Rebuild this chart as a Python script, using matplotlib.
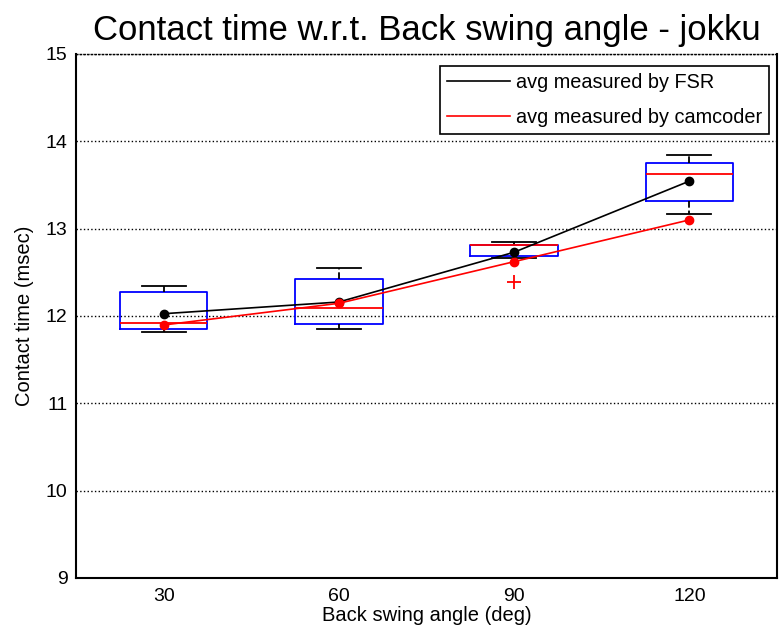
import matplotlib
matplotlib.use("Agg")
import matplotlib.pyplot as plt

plt.rcParams['font.family'] = ['Liberation Sans', 'DejaVu Sans']

angles = ['30', '60', '90', '120']

# box statistics (FSR measurements)
q1 = [11.847, 11.912, 12.688, 13.315]
med = [11.923, 12.088, 12.814, 13.631]
q3 = [12.275, 12.420, 12.814, 13.751]
whislo = [11.816, 11.847, 12.665, 13.169]
whishi = [12.347, 12.554, 12.848, 13.846]
fliers = [[], [], [12.393], []]

avg_fsr = [12.026, 12.160, 12.730, 13.544]
avg_cam = [11.897, 12.145, 12.622, 13.100]


def main():
    fig = plt.figure(figsize=(7.79, 6.41), dpi=100)
    ax = fig.add_axes([0.0976, 0.0983, 0.8998, 0.8175])

    stats = []
    for i in range(len(angles)):
        stats.append({'med': med[i], 'q1': q1[i], 'q3': q3[i],
                      'whislo': whislo[i], 'whishi': whishi[i],
                      'fliers': fliers[i]})
    pos = list(range(1, len(angles) + 1))

    ax.bxp(stats, positions=pos, widths=0.5, showfliers=True,
           boxprops=dict(color='blue', lw=1.3),
           medianprops=dict(color='red', lw=1.3),
           whiskerprops=dict(color='black', lw=1.3, ls='--'),
           capprops=dict(color='black', lw=1.3),
           capwidths=0.25,
           flierprops=dict(marker='+', markeredgecolor='red', markersize=10,
                           markeredgewidth=1.3, linestyle='none'))

    ax.plot(pos, avg_fsr, color='black', lw=1.2, label='avg measured by FSR',
            marker='o', ms=6, zorder=5)
    ax.plot(pos, avg_cam, color='red', lw=1.2, label='avg measured by camcoder',
            marker='o', ms=6, zorder=5)

    ax.set_xlim(0.5, 4.5)
    ax.set_ylim(9, 15)
    ax.set_xticks(pos)
    ax.set_xticklabels(angles)
    ax.set_yticks(range(9, 16))
    ax.tick_params(labelsize=14, length=0)
    ax.tick_params(axis='y', pad=6)
    ax.tick_params(axis='x', pad=7)
    ax.yaxis.grid(True, ls=':', color='black', lw=1)
    ax.set_axisbelow(True)
    for s in ['left', 'bottom', 'right']:
        ax.spines[s].set_linewidth(1.5)
    ax.spines['top'].set_linestyle(':')
    ax.spines['top'].set_linewidth(1)

    ax.set_xlabel('Back swing angle (deg)', fontsize=14.5, labelpad=1)
    ax.set_ylabel('Contact time (msec)', fontsize=14.5, labelpad=8.5)
    ax.set_title('Contact time w.r.t. Back swing angle - jokku', fontsize=25, pad=10)

    leg = ax.legend(loc='upper right', fontsize=14.3, handlelength=3.17,
                    handletextpad=0.3, fancybox=False, framealpha=1,
                    borderpad=0.35, labelspacing=0.82, borderaxespad=0,
                    bbox_to_anchor=(0.989, 0.977))
    leg.get_frame().set_edgecolor('black')
    leg.get_frame().set_linewidth(1.2)
    for h in leg.legend_handles:
        h.set_marker('')

    fig.savefig('out.png', dpi=100)


if __name__ == "__main__":
    main()
